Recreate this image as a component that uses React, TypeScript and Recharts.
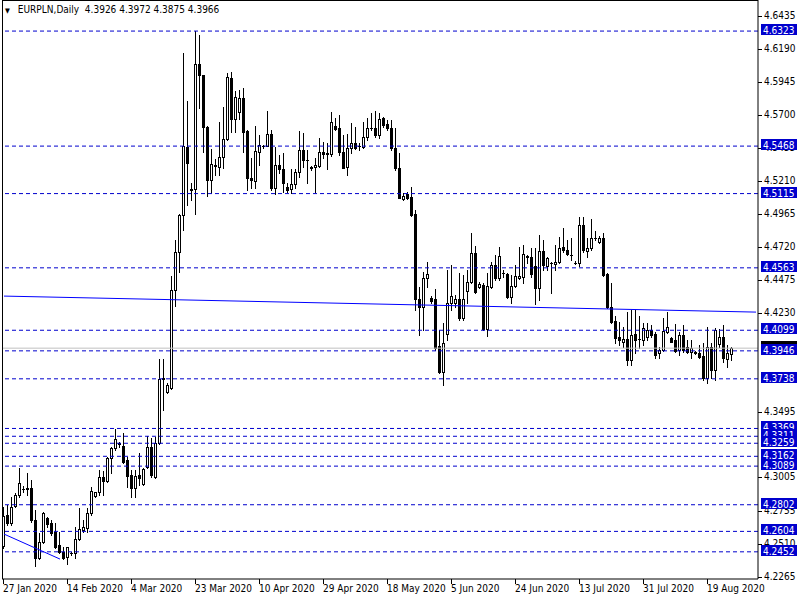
import React from 'react';
import { ComposedChart, Bar, Line, XAxis, YAxis, ReferenceLine } from 'recharts';

// Daily candles from 27 Jan 2020 (broker feed with Sunday bars)
const open = [
  4.2495, 4.2725, 4.2665, 4.2792, 4.2874, 4.2918, 4.2926, 4.2926, 4.2688, 4.2405,
  4.2524, 4.2703, 4.2665, 4.2599, 4.2502, 4.2450, 4.2413, 4.2442, 4.2442, 4.2547,
  4.2613, 4.2628, 4.2740, 4.2866, 4.2896, 4.3008, 4.2978, 4.3149, 4.3223, 4.3260,
  4.3238, 4.3134, 4.3022, 4.2926, 4.3022, 4.2955, 4.3082, 4.3231, 4.3008, 4.3260,
  4.3744, 4.3639, 4.3669, 4.4398, 4.4680, 4.4955, 4.5461, 4.5141, 4.5149, 4.6078,
  4.5996, 4.5610, 4.5216, 4.5320, 4.5312, 4.5387, 4.5521, 4.5974, 4.5669, 4.5721,
  4.5825, 4.5580, 4.5231, 4.5208, 4.5424, 4.5468, 4.5468, 4.5558, 4.5156, 4.5327,
  4.5297, 4.5164, 4.5149, 4.5186, 4.5275, 4.5439, 4.5364, 4.5312, 4.5312, 4.5320,
  4.5424, 4.5416, 4.5409, 4.5617, 4.5602, 4.5424, 4.5312, 4.5454, 4.5491, 4.5468,
  4.5461, 4.5535, 4.5602, 4.5602, 4.5550, 4.5677, 4.5632, 4.5602, 4.5454, 4.5305,
  4.5074, 4.5112, 4.5089, 4.4963, 4.4331, 4.4271, 4.4487, 4.4338, 4.4331, 4.3981,
  4.3788, 4.4071, 4.4301, 4.4301, 4.4331, 4.4190, 4.4390, 4.4457, 4.4673, 4.4420,
  4.4435, 4.4108, 4.4420, 4.4584, 4.4487, 4.4524, 4.4517, 4.4346, 4.4428, 4.4487,
  4.4495, 4.4643, 4.4643, 4.4576, 4.4413, 4.4688, 4.4576, 4.4599, 4.4591, 4.4606,
  4.4718, 4.4695, 4.4658, 4.4599, 4.4599, 4.4881, 4.4688, 4.4710, 4.4784, 4.4755,
  4.4784, 4.4517, 4.4271, 4.4167, 4.4048, 4.4011, 4.4034, 4.3877, 4.4071, 4.4034,
  4.4026, 4.4048, 4.4100, 4.4071, 4.3929, 4.3952, 4.4086, 4.4041, 4.4026, 4.3952,
  4.4063, 4.3974, 4.3937, 4.3937, 4.3929, 4.3907, 4.3744, 4.3974, 4.3803, 4.3996,
  4.4048, 4.3885, 4.3926,
];
const high = [
  4.2784, 4.2799, 4.2859, 4.2889, 4.3074, 4.2941, 4.3037, 4.2985, 4.2762, 4.2591,
  4.2745, 4.2710, 4.2688, 4.2665, 4.2599, 4.2487, 4.2490, 4.2450, 4.2636, 4.2777,
  4.2688, 4.2777, 4.2933, 4.2896, 4.3060, 4.3052, 4.3156, 4.3231, 4.3364, 4.3268,
  4.3335, 4.3156, 4.3060, 4.3060, 4.3186, 4.3074, 4.3312, 4.3297, 4.3305, 4.3885,
  4.3885, 4.3706, 4.4502, 4.4770, 4.4960, 4.6160, 4.5803, 4.5193, 4.6323, 4.6294,
  4.6000, 4.5615, 4.5446, 4.5372, 4.5647, 4.5758, 4.6011, 4.6019, 4.5877, 4.5885,
  4.5900, 4.5587, 4.5379, 4.5617, 4.5550, 4.5476, 4.5729, 4.5587, 4.5461, 4.5402,
  4.5416, 4.5193, 4.5297, 4.5297, 4.5580, 4.5565, 4.5439, 4.5320, 4.5379, 4.5528,
  4.5498, 4.5491, 4.5721, 4.5677, 4.5699, 4.5550, 4.5558, 4.5639, 4.5610, 4.5491,
  4.5647, 4.5677, 4.5714, 4.5729, 4.5714, 4.5684, 4.5662, 4.5662, 4.5602, 4.5416,
  4.5119, 4.5126, 4.5164, 4.4993, 4.4420, 4.4532, 4.4606, 4.4353, 4.4405, 4.4100,
  4.4152, 4.4547, 4.4584, 4.4361, 4.4524, 4.4509, 4.4547, 4.4822, 4.4725, 4.4457,
  4.4450, 4.4524, 4.4606, 4.4658, 4.4718, 4.4547, 4.4524, 4.4509, 4.4584, 4.4718,
  4.4732, 4.4658, 4.4710, 4.4710, 4.4807, 4.4770, 4.4643, 4.4606, 4.4732, 4.4792,
  4.4859, 4.4770, 4.4784, 4.4614, 4.4941, 4.4941, 4.4784, 4.4926, 4.4837, 4.4799,
  4.4822, 4.4524, 4.4450, 4.4205, 4.4160, 4.4123, 4.4234, 4.4249, 4.4249, 4.4205,
  4.4152, 4.4152, 4.4138, 4.4086, 4.3974, 4.4190, 4.4234, 4.4048, 4.4145, 4.4086,
  4.4138, 4.4026, 4.4026, 4.3944, 4.3989, 4.4004, 4.4123, 4.4004, 4.4115, 4.4108,
  4.4138, 4.3989, 4.3972,
];
const low = [
  4.2480, 4.2651, 4.2651, 4.2784, 4.2859, 4.2896, 4.2874, 4.2673, 4.2346, 4.2400,
  4.2520, 4.2636, 4.2576, 4.2480, 4.2442, 4.2398, 4.2361, 4.2428, 4.2405, 4.2539,
  4.2599, 4.2599, 4.2725, 4.2859, 4.2874, 4.2874, 4.2970, 4.3037, 4.3208, 4.3231,
  4.3112, 4.2933, 4.2859, 4.2859, 4.2948, 4.2948, 4.3074, 4.3008, 4.3000, 4.3253,
  4.3506, 4.3632, 4.3662, 4.4279, 4.4532, 4.4844, 4.5030, 4.5067, 4.4963, 4.5751,
  4.5424, 4.5097, 4.5119, 4.5253, 4.5253, 4.5305, 4.5515, 4.5573, 4.5573, 4.5669,
  4.5424, 4.5141, 4.5156, 4.5156, 4.5327, 4.5454, 4.5465, 4.5141, 4.5112, 4.5268,
  4.5126, 4.5126, 4.5119, 4.5156, 4.5238, 4.5312, 4.5193, 4.5290, 4.5126, 4.5312,
  4.5379, 4.5297, 4.5394, 4.5587, 4.5402, 4.5305, 4.5253, 4.5416, 4.5446, 4.5439,
  4.5454, 4.5513, 4.5587, 4.5535, 4.5528, 4.5610, 4.5587, 4.5439, 4.5290, 4.5082,
  4.5067, 4.5074, 4.4948, 4.4249, 4.4063, 4.4100, 4.4420, 4.4301, 4.3952, 4.3781,
  4.3692, 4.4026, 4.4249, 4.4271, 4.4175, 4.4172, 4.4301, 4.4450, 4.4376, 4.4413,
  4.4100, 4.4056, 4.4413, 4.4472, 4.4470, 4.4495, 4.4338, 4.4301, 4.4420, 4.4480,
  4.4450, 4.4599, 4.4495, 4.4294, 4.4323, 4.4547, 4.4547, 4.4376, 4.4547, 4.4599,
  4.4680, 4.4658, 4.4621, 4.4591, 4.4576, 4.4680, 4.4643, 4.4695, 4.4770, 4.4747,
  4.4502, 4.4264, 4.4152, 4.4004, 4.3989, 4.3974, 4.3840, 4.3838, 4.3929, 4.3967,
  4.3989, 4.4026, 4.4048, 4.3892, 4.3892, 4.3944, 4.4078, 4.4011, 4.3937, 4.3915,
  4.3937, 4.3929, 4.3892, 4.3922, 4.3892, 4.3729, 4.3706, 4.3744, 4.3729, 4.3974,
  4.3863, 4.3825, 4.3875,
];
const close = [
  4.2718, 4.2665, 4.2784, 4.2874, 4.2963, 4.2920, 4.2918, 4.2688, 4.2405, 4.2524,
  4.2740, 4.2658, 4.2591, 4.2487, 4.2450, 4.2405, 4.2487, 4.2440, 4.2547, 4.2621,
  4.2636, 4.2740, 4.2903, 4.2893, 4.3008, 4.2978, 4.3149, 4.3223, 4.3290, 4.3253,
  4.3119, 4.3015, 4.2926, 4.3015, 4.3000, 4.3067, 4.3231, 4.3022, 4.3260, 4.3736,
  4.3738, 4.3692, 4.4398, 4.4680, 4.4955, 4.5468, 4.5342, 4.5149, 4.6078, 4.5996,
  4.5610, 4.5216, 4.5335, 4.5327, 4.5387, 4.5521, 4.5981, 4.5669, 4.5833, 4.5825,
  4.5573, 4.5231, 4.5216, 4.5431, 4.5476, 4.5470, 4.5558, 4.5156, 4.5327, 4.5297,
  4.5193, 4.5141, 4.5186, 4.5275, 4.5439, 4.5364, 4.5362, 4.5305, 4.5327, 4.5424,
  4.5409, 4.5412, 4.5647, 4.5595, 4.5424, 4.5307, 4.5454, 4.5491, 4.5454, 4.5466,
  4.5535, 4.5602, 4.5600, 4.5550, 4.5669, 4.5625, 4.5602, 4.5454, 4.5305, 4.5085,
  4.5097, 4.5082, 4.4955, 4.4331, 4.4271, 4.4487, 4.4517, 4.4316, 4.3967, 4.3788,
  4.4004, 4.4301, 4.4353, 4.4331, 4.4190, 4.4331, 4.4457, 4.4673, 4.4383, 4.4442,
  4.4108, 4.4428, 4.4584, 4.4487, 4.4651, 4.4522, 4.4346, 4.4428, 4.4502, 4.4502,
  4.4666, 4.4651, 4.4517, 4.4413, 4.4688, 4.4584, 4.4636, 4.4597, 4.4606, 4.4710,
  4.4695, 4.4666, 4.4656, 4.4601, 4.4881, 4.4695, 4.4710, 4.4784, 4.4782, 4.4784,
  4.4509, 4.4271, 4.4160, 4.4041, 4.4026, 4.4034, 4.3877, 4.4063, 4.4026, 4.4032,
  4.4115, 4.4100, 4.4063, 4.3915, 4.3952, 4.4093, 4.4123, 4.4013, 4.3944, 4.4063,
  4.3952, 4.3937, 4.3967, 4.3929, 4.3900, 4.3744, 4.3974, 4.3803, 4.4100, 4.4048,
  4.3892, 4.3929, 4.3966,
];

const TOTAL_SLOTS = 189;
const dateLabels = [
  '27 Jan 2020', '14 Feb 2020', '4 Mar 2020', '23 Mar 2020', '10 Apr 2020', '29 Apr 2020',
  '18 May 2020', '5 Jun 2020', '24 Jun 2020', '13 Jul 2020', '31 Jul 2020', '19 Aug 2020',
];
const BARS_PER_LABEL = 16;

const levels = [4.6323, 4.5468, 4.5115, 4.4563, 4.4099, 4.3946, 4.3738, 4.3369, 4.3311, 4.3259, 4.3162, 4.3089, 4.2802, 4.2604, 4.2452];
const axisTicks = [4.6435, 4.6190, 4.5945, 4.5700, 4.5455, 4.5210, 4.4965, 4.4720, 4.4475, 4.4230, 4.3495, 4.3005, 4.2755, 4.2510, 4.2265];
const bidPrice = 4.3966;
const trendA = { startIndex: 0, startValue: 4.4353, endIndex: 188, endValue: 4.4234 };
const trendB = { startIndex: 0, startValue: 4.2584, endIndex: 14, endValue: 4.2398 };
const title = 'EURPLN,Daily  4.3926 4.3972 4.3875 4.3966';

const data = Array.from({ length: TOTAL_SLOTS }, (_, i) => {
  const row: any = { i };
  if (i < open.length) {
    row.o = open[i]; row.h = high[i]; row.l = low[i]; row.c = close[i];
  }
  if (i === trendA.startIndex) row.ta = trendA.startValue;
  if (i === trendA.endIndex) row.ta = trendA.endValue;
  if (i === trendB.startIndex) row.tb = trendB.startValue;
  if (i === trendB.endIndex) row.tb = trendB.endValue;
  return row;
});

const FONT = "'DejaVu Sans Condensed', 'DejaVu Sans', sans-serif";
const BLUE = '#0000cd';
const CH_W = 800, CH_H = 600, Y_AXIS_W = 42, X_AXIS_H = 21;
const AXIS_X = CH_W - Y_AXIS_W;
const PLOT_BOTTOM = CH_H - X_AXIS_H;

const Candle = (props: any) => {
  let { x, y, width, height, payload } = props;
  if (!payload || payload.o == null) return null;
  if (height < 0) { y += height; height = -height; }
  const { o, h, l, c } = payload;
  const ppu = h > l ? height / (h - l) : 0;
  const toY = (v: number) => y + (h - v) * ppu;
  const cx = Math.round(x + width / 2);
  const wx = cx - 0.5;
  const yh = Math.round(toY(h));
  const yl = Math.round(toY(l));
  const bt = Math.round(toY(Math.max(o, c)));
  const bb = Math.round(toY(Math.min(o, c)));
  const bull = c >= o;
  return (
    <g shapeRendering="crispEdges">
      <line x1={wx} x2={wx} y1={yh} y2={yl + 1} stroke="#000" strokeWidth={1} />
      {bb - bt < 1 ? (
        <line x1={cx - 2} x2={cx + 1} y1={bt + 0.5} y2={bt + 0.5} stroke="#000" strokeWidth={1} />
      ) : (
        <rect x={cx - 1.5} y={bt + 0.5} width={2} height={bb - bt} fill={bull ? '#fff' : '#000'} stroke="#000" strokeWidth={1} />
      )}
    </g>
  );
};

const YTick = (props: any) => {
  const { y, payload } = props;
  const v: number = payload.value;
  const yy = Math.round(y);
  const isLevel = levels.includes(v);
  if (v === bidPrice && !isLevel) {
    // bid marker, mostly hidden under the neighbouring level label
    return <rect x={AXIS_X + 3} y={yy - 7} width={36} height={11} fill="#000" shapeRendering="crispEdges" />;
  }
  if (isLevel) {
    return (
      <g shapeRendering="crispEdges">
        <rect x={AXIS_X + 3} y={yy - 7} width={36} height={11} fill={BLUE} />
        <text x={AXIS_X + 5} y={yy + 2.5} fontFamily={FONT} fontSize={10} fill="#fff">{v.toFixed(4)}</text>
      </g>
    );
  }
  return (
    <g>
      <line x1={AXIS_X} x2={AXIS_X + 4} y1={yy + 0.5} y2={yy + 0.5} stroke="#000" strokeWidth={1} shapeRendering="crispEdges" />
      <text x={AXIS_X + 6} y={yy + 3} fontFamily={FONT} fontSize={10} fill="#000">{v.toFixed(4)}</text>
    </g>
  );
};

const XTick = (props: any) => {
  const { x, payload } = props;
  const idx = Math.round(payload.value / BARS_PER_LABEL);
  const label = dateLabels[idx];
  if (!label) return null;
  const tx = Math.round(x) - 0.5;
  return (
    <g>
      <line x1={tx} x2={tx} y1={PLOT_BOTTOM} y2={PLOT_BOTTOM + 5} stroke="#000" strokeWidth={1} shapeRendering="crispEdges" />
      <text x={tx - 0.5} y={PLOT_BOTTOM + 13} fontFamily={FONT} fontSize={10} fill="#000">{label}</text>
    </g>
  );
};

const xTickValues = dateLabels.map((_, k) => k * BARS_PER_LABEL);
const yTickValues = [...axisTicks, bidPrice, ...levels];

export default function App() {
  return (
    <div style={{ position: 'absolute', left: 0, top: 0, width: CH_W, height: CH_H, background: '#fff' }}>
      <ComposedChart width={CH_W} height={CH_H} data={data} margin={{ top: 0, right: 0, bottom: 0, left: 2 }} barCategoryGap={0} barGap={0}>
        <XAxis dataKey="i" type="category" height={X_AXIS_H} ticks={xTickValues} interval={0} tick={<XTick />} tickLine={false} axisLine={{ stroke: '#000' }} />
        <YAxis orientation="right" type="number" domain={[4.2250, 4.6554]} allowDataOverflow width={Y_AXIS_W} ticks={yTickValues} interval={0} tick={<YTick />} tickLine={false} axisLine={{ stroke: '#000' }} />
        <ReferenceLine y={bidPrice} stroke="#c0c0c0" strokeWidth={1} ifOverflow="hidden" />
        {levels.map((lv) => (
          <ReferenceLine key={lv} y={lv} stroke={BLUE} strokeWidth={1} strokeDasharray="4 3" ifOverflow="hidden" />
        ))}
        <Line dataKey="ta" stroke="#0000ff" strokeWidth={1} dot={false} connectNulls isAnimationActive={false} />
        <Line dataKey="tb" stroke="#0000ff" strokeWidth={1} dot={false} connectNulls isAnimationActive={false} />
        <Bar dataKey={(d: any) => (d.o == null ? null : [d.l, d.h])} barSize={4} shape={<Candle />} isAnimationActive={false} />
      </ComposedChart>
      <div style={{ position: 'absolute', left: 2, top: 0, width: AXIS_X - 2, height: PLOT_BOTTOM, borderLeft: '1px solid #000', borderTop: '1px solid #000', boxSizing: 'border-box', pointerEvents: 'none' }} />
      <div style={{ position: 'absolute', left: 5, top: 3, fontFamily: FONT, fontSize: 10, color: '#000', whiteSpace: 'pre', lineHeight: '14px' }}>
        <span style={{ fontSize: 7, marginRight: 8 }}>▼</span>{title}
      </div>
    </div>
  );
}
